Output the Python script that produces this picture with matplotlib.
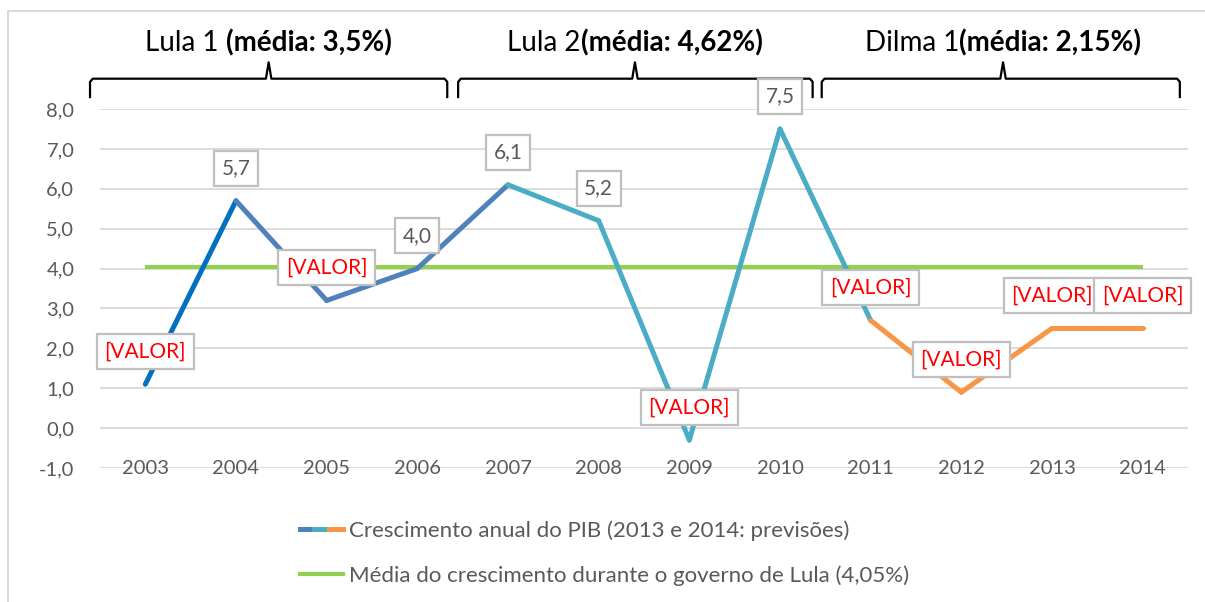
import matplotlib
matplotlib.use("Agg")
import matplotlib.pyplot as plt
from matplotlib.lines import Line2D
from matplotlib.legend_handler import HandlerTuple
from matplotlib.offsetbox import TextArea, HPacker, AnnotationBbox
from matplotlib.patches import Rectangle

plt.rcParams['font.family'] = ['Lato', 'DejaVu Sans']

# ---- data ----
years = ["2003", "2004", "2005", "2006", "2007", "2008", "2009", "2010",
         "2011", "2012", "2013", "2014"]
gdp_growth = [1.1, 5.7, 3.2, 4.0, 6.1, 5.2, -0.3, 7.5, 2.7, 0.9, 2.5, 2.5]
point_labels = ["[VALOR]", "5,7", "[VALOR]", "4,0", "6,1", "5,2", "[VALOR]",
                "7,5", "[VALOR]", "[VALOR]", "[VALOR]", "[VALOR]"]
lula_average = 4.05
y_ticks = [-1, 0, 1, 2, 3, 4, 5, 6, 7, 8]
y_tick_labels = ["-1,0", "0,0", "1,0", "2,0", "3,0", "4,0", "5,0", "6,0", "7,0", "8,0"]
periods_regular = ["Lula 1 ", "Lula 2", "Dilma 1"]
periods_bold = ["(média: 3,5%)", "(média: 4,62%)", "(média: 2,15%)"]
legend_labels = ["Crescimento anual do PIB (2013 e 2014: previsões)",
                 "Média do crescimento durante o governo de Lula (4,05%)"]

# segment colour groups (index of segment start)
C_DARK = "#0070C0"
C_BLUE = "#4F81BD"
C_TEAL = "#4BACC6"
C_ORANGE = "#F79646"
C_GREEN = "#92D050"
seg_colors = [C_DARK, C_BLUE, C_BLUE, C_BLUE, C_TEAL, C_TEAL, C_TEAL, C_TEAL,
              C_ORANGE, C_ORANGE, C_ORANGE]

GREY_TXT = "#595959"
GRID = "#D9D9D9"

fig = plt.figure(figsize=(12.05, 6.02), dpi=100)
W, H = 1205, 602
ax = fig.add_axes([100 / W, 1 - 468 / H, (1188 - 100) / W, (468 - 109) / H])

x = list(range(len(years)))
ax.set_xlim(-0.5, len(years) - 0.5)
ax.set_ylim(-1, 8)

# gridlines
for t in y_ticks:
    ax.axhline(t, color=GRID, lw=1.3, zorder=0)

# average line
ax.plot([x[0], x[-1]], [lula_average, lula_average], color=C_GREEN, lw=3.0,
        solid_capstyle='butt', zorder=2)

# growth line by segments
for i in range(len(x) - 1):
    ax.plot(x[i:i + 2], gdp_growth[i:i + 2], color=seg_colors[i], lw=3.6,
            solid_capstyle='round', solid_joinstyle='round', zorder=3)

# data labels
for xi, yi, lab in zip(x, gdp_growth, point_labels):
    col = "#FF0000" if lab.startswith("[") else GREY_TXT
    ax.annotate(lab, (xi, yi), xytext=(0, 23.5), textcoords='offset points',
                ha='center', va='center', fontsize=15, color=col, zorder=5,
                bbox=dict(boxstyle='square,pad=0.36', fc='white', ec='#BFBFBF', lw=1.6))

# axes styling
for s in ax.spines.values():
    s.set_visible(False)
ax.set_yticks(y_ticks)
ax.set_yticklabels(y_tick_labels)
ax.set_xticks(x)
ax.set_xticklabels(years)
ax.tick_params(axis='y', length=0, pad=18.5, labelsize=14.5, labelcolor=GREY_TXT)
ax.tick_params(axis='x', length=0, pad=-5.5, labelsize=14.5, labelcolor=GREY_TXT)

# braces and period titles
braces = [(-0.61, 1.36, 3.33), (3.45, 5.40, 7.36), (7.46, 9.46, 11.41)]
y_bar, y_end, y_tip, y_title = 8.76, 8.30, 9.17, 9.67
r = 0.06
for (xl, xt, xr), reg, bold in zip(braces, periods_regular, periods_bold):
    bx = [xl, xl, xl + r * 0.5, xt - 0.03, xt, xt + 0.03, xr - r * 0.5, xr, xr]
    by = [y_end, y_bar - 0.08, y_bar, y_bar, y_tip, y_bar, y_bar, y_bar - 0.08, y_end]
    ax.plot(bx, by, color='black', lw=1.6, clip_on=False, solid_joinstyle='round')
    pack = HPacker(children=[TextArea(reg, textprops=dict(fontsize=20, color='black')),
                             TextArea(bold, textprops=dict(fontsize=20, color='black',
                                                           fontweight='bold'))],
                   pad=0, sep=0, align='baseline')
    ab = AnnotationBbox(pack, (xt, y_title), frameon=False, box_alignment=(0.5, 0.5),
                        annotation_clip=False)
    ax.add_artist(ab)

# legend
h1 = (Line2D([], [], color=C_BLUE, lw=3.6), Line2D([], [], color=C_TEAL, lw=3.6),
      Line2D([], [], color=C_ORANGE, lw=3.6))
h2 = Line2D([], [], color=C_GREEN, lw=3.0)
leg = fig.legend([h1, h2], legend_labels, loc='upper left',
                 bbox_to_anchor=(300 / W, 1 - 520 / H),
                 handler_map={tuple: HandlerTuple(ndivide=None, pad=0)},
                 frameon=False, fontsize=16, labelcolor=GREY_TXT,
                 handlelength=1.95, handletextpad=0.25, labelspacing=1.12, borderpad=0,
                 borderaxespad=0)

# chart border (left and top visible)
fig.add_artist(Rectangle((8 / W, -0.1), 1.2, 1 - 11 / H + 0.1, transform=fig.transFigure,
                         fill=False, ec='#D9D9D9', lw=1.5))

fig.savefig("out.png", dpi=100, facecolor='white')
